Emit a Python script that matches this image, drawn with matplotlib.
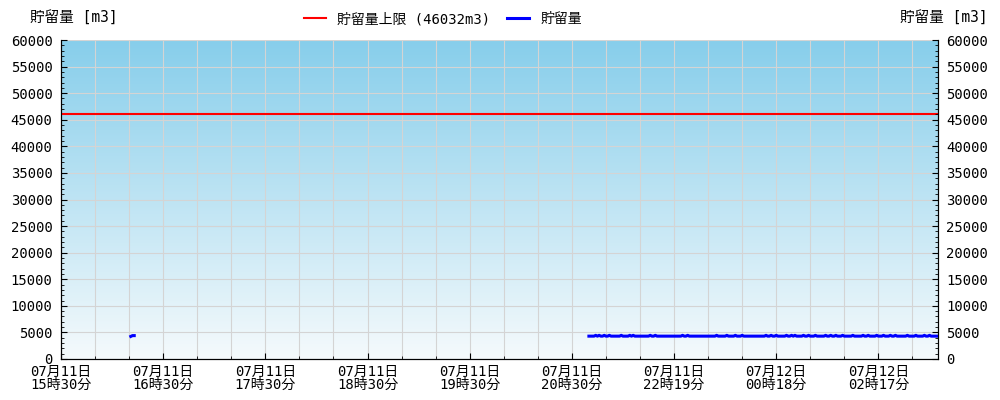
import numpy as np
import matplotlib
matplotlib.use("Agg")
import matplotlib.pyplot as plt
from matplotlib.colors import LinearSegmentedColormap
from matplotlib.ticker import MultipleLocator

plt.rcParams["font.family"] = ["DejaVu Sans Mono", "Noto Sans CJK JP"]
plt.rcParams["font.size"] = 10

# sample index axis (one sample per slot, labels every 60 slots)
n_samples = 516
upper_limit = 46032

label_pos = [0, 60, 120, 180, 240, 300, 360, 420, 480]
label_dates = ["07月11日"] * 7 + ["07月12日"] * 2
label_times = ["15時30分", "16時30分", "17時30分", "18時30分", "19時30分",
               "20時30分", "22時19分", "00時18分", "02時17分"]

# first short burst of readings
seg1_start = 41
seg1_values = [4250, 4400, 4400]

# main block of readings
seg2_start = 310
seg2_values = [
    4300, 4300, 4300, 4300, 4450, 4300, 4450, 4300, 4300, 4450,
    4300, 4300, 4450, 4300, 4300, 4300, 4300, 4300, 4300, 4450,
    4300, 4300, 4300, 4300, 4450, 4300, 4450, 4300, 4300, 4300,
    4300, 4300, 4300, 4300, 4300, 4300, 4450, 4300, 4300, 4450,
    4300, 4300, 4300, 4300, 4300, 4300, 4300, 4300, 4300, 4300,
    4300, 4300, 4300, 4300, 4300, 4450, 4300, 4300, 4450, 4300,
    4300, 4300, 4300, 4300, 4300, 4300, 4300, 4300, 4300, 4300,
    4300, 4300, 4300, 4300, 4300, 4450, 4300, 4300, 4300, 4300,
    4300, 4450, 4300, 4300, 4300, 4300, 4450, 4300, 4300, 4300,
    4450, 4300, 4300, 4300, 4300, 4300, 4300, 4300, 4300, 4300,
    4300, 4300, 4300, 4300, 4450, 4300, 4300, 4450, 4300, 4300,
    4450, 4300, 4300, 4300, 4300, 4300, 4450, 4300, 4300, 4450,
    4300, 4450, 4300, 4300, 4300, 4300, 4450, 4300, 4300, 4450,
    4300, 4300, 4300, 4450, 4300, 4300, 4300, 4300, 4300, 4450,
    4300, 4300, 4450, 4300, 4300, 4450, 4300, 4300, 4300, 4450,
    4300, 4300, 4300, 4300, 4300, 4450, 4300, 4300, 4300, 4300,
    4300, 4450, 4300, 4300, 4450, 4300, 4300, 4300, 4300, 4450,
    4300, 4300, 4300, 4450, 4300, 4300, 4300, 4450, 4300, 4300,
    4450, 4300, 4300, 4300, 4300, 4300, 4300, 4450, 4300, 4300,
    4300, 4300, 4450, 4300, 4300, 4300, 4300, 4450, 4300, 4300,
    4450, 4300, 4300, 4300, 4300, 4300,
]

storage = np.full(n_samples, np.nan)
storage[seg1_start:seg1_start + len(seg1_values)] = seg1_values
storage[seg2_start:seg2_start + len(seg2_values)] = seg2_values
x = np.arange(n_samples)

fig = plt.figure(figsize=(10, 4), dpi=100)
ax = fig.add_axes([0.061, 0.1025, 0.877, 0.7975])

# sky gradient background
cmap = LinearSegmentedColormap.from_list("sky", ["#f5fafc", "#87ceeb"])
grad = np.linspace(0, 1, 256).reshape(-1, 1)
ax.imshow(grad, cmap=cmap, origin="lower", aspect="auto",
          extent=[0, n_samples - 1, 0, 60000], zorder=0)

ax.axhline(upper_limit, color="#ff0000", lw=1.5, label="貯留量上限 (46032m3)", zorder=3)
ax.plot(x, storage, color="#0000ff", lw=2.2, label="貯留量", zorder=4)

ax.set_xlim(0, n_samples - 1)
ax.set_ylim(0, 60000)
ax.set_axisbelow(True)

ax.set_xticks(label_pos)
ax.set_xticklabels([d + "\n" + t for d, t in zip(label_dates, label_times)],
                   linespacing=0.95)
ax.xaxis.set_minor_locator(MultipleLocator(20))
ax.yaxis.set_major_locator(MultipleLocator(5000))
ax.yaxis.set_minor_locator(MultipleLocator(1000))

ax.grid(True, which="major", color="#d4d4d4", lw=0.8)
ax.grid(True, which="minor", axis="x", color="#d4d4d4", lw=0.8)

ax.tick_params(which="both", direction="in", color="black")
ax.tick_params(which="major", length=4.5, pad=4)
ax.tick_params(axis="y", which="major", pad=6)
ax.tick_params(which="minor", length=2.5)
ax.spines["top"].set_visible(False)

ax2 = ax.twinx()
ax2.set_ylim(0, 60000)
ax2.yaxis.set_major_locator(MultipleLocator(5000))
ax2.yaxis.set_minor_locator(MultipleLocator(1000))
ax2.tick_params(which="both", direction="in")
ax2.tick_params(which="major", length=4.5, pad=6)
ax2.tick_params(which="minor", length=2.5)
ax2.spines["top"].set_visible(False)

fig.text(0.03, 0.957, "貯留量 [m3]", ha="left", va="center", fontsize=10.5)
fig.text(0.988, 0.957, "貯留量 [m3]", ha="right", va="center", fontsize=10.5)

fig.legend(loc="center", bbox_to_anchor=(0.443, 0.952), ncol=2,
           frameon=False, handlelength=1.6, columnspacing=1.2, handletextpad=0.8)

fig.savefig("out.png", dpi=100)
